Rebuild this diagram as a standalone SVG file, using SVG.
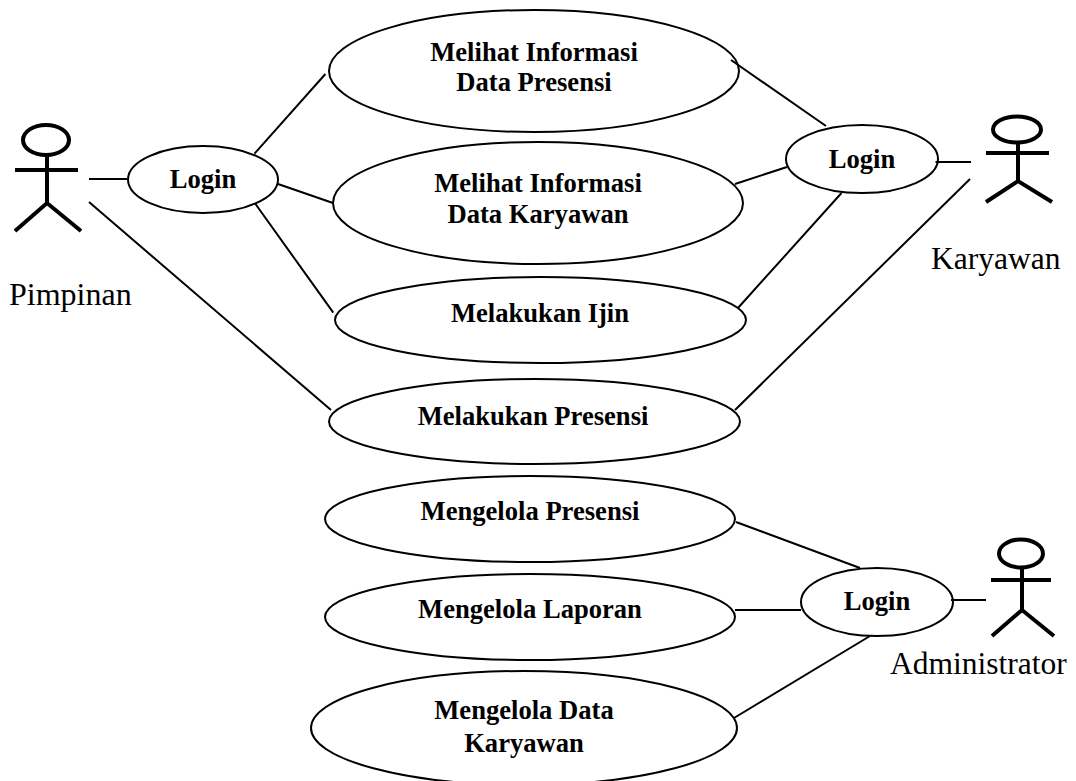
<svg xmlns="http://www.w3.org/2000/svg" width="1076" height="781" viewBox="0 0 1076 781">
<style>
.n{fill:none;stroke:#000;stroke-width:2}
.c{fill:none;stroke:#000;stroke-width:2}
.a{fill:none;stroke:#000;stroke-width:4}
.b{font:bold 26.6px "Liberation Serif","Times New Roman",serif;text-anchor:middle;fill:#000}
.r{font:31.5px "Liberation Serif","Times New Roman",serif;fill:#000}
</style>
<rect width="1076" height="781" fill="#fff"/>
<g id="connectors">
<path class="c" d="M89 179H127M89 202L331 410M254.500 153.700L325.400 74M278 184L333 203M255.500 204L333.300 312.700"/>
<path class="c" d="M731 60L826 126M735 184L787 167M738 308L841.500 193M735 410L970 179M935.500 162H971"/>
<path class="c" d="M736 522L860 568M735 610H801M734 718L870 636M951 600H986"/>
</g>
<g id="uc1"><ellipse class="n" cx="534" cy="71" rx="205" ry="61"/><text class="b" x="534" y="61">Melihat Informasi</text><text class="b" x="534" y="91">Data Presensi</text></g>
<g id="uc2"><ellipse class="n" cx="538" cy="203" rx="205" ry="61"/><text class="b" x="538" y="192">Melihat Informasi</text><text class="b" x="538" y="223">Data Karyawan</text></g>
<g id="uc3"><ellipse class="n" cx="540.500" cy="320" rx="205.500" ry="43"/><text class="b" x="540" y="322">Melakukan Ijin</text></g>
<g id="uc4"><ellipse class="n" cx="534.500" cy="421.500" rx="205.500" ry="42.500"/><text class="b" x="533" y="425">Melakukan Presensi</text></g>
<g id="uc5"><ellipse class="n" cx="530" cy="519" rx="205" ry="43"/><text class="b" x="530" y="520">Mengelola Presensi</text></g>
<g id="uc6"><ellipse class="n" cx="530" cy="617" rx="205" ry="43"/><text class="b" x="530" y="618">Mengelola Laporan</text></g>
<g id="uc7"><ellipse class="n" cx="524" cy="728" rx="213" ry="57"/><text class="b" x="524" y="719">Mengelola Data</text><text class="b" x="524" y="752">Karyawan</text></g>
<g id="login1"><ellipse class="n" cx="203" cy="179.500" rx="75" ry="33.500"/><text class="b" x="203" y="188">Login</text></g>
<g id="login2"><ellipse class="n" cx="862" cy="159" rx="76" ry="34"/><text class="b" x="862" y="168">Login</text></g>
<g id="login3"><ellipse class="n" cx="877" cy="602" rx="76" ry="34"/><text class="b" x="877" y="610">Login</text></g>
<g id="pimpinan"><ellipse class="a" cx="46" cy="140" rx="23" ry="15"/><path class="a" d="M47 156V203M15 170H78M15 231L47 203L81 231"/><text class="r" x="9" y="305" style="font-size:32px">Pimpinan</text></g>
<g id="karyawan"><ellipse class="a" cx="1017" cy="129.500" rx="24" ry="13"/><path class="a" d="M1018 143V181M986 153H1049M986 202L1018 181L1052 202"/><text class="r" x="931" y="269">Karyawan</text></g>
<g id="administrator"><ellipse class="a" cx="1021" cy="553.500" rx="22" ry="14"/><path class="a" d="M1022 568V610M991 580H1051M992 636L1022 610L1054 636"/><text class="r" x="890" y="674">Administrator</text></g>
</svg>
